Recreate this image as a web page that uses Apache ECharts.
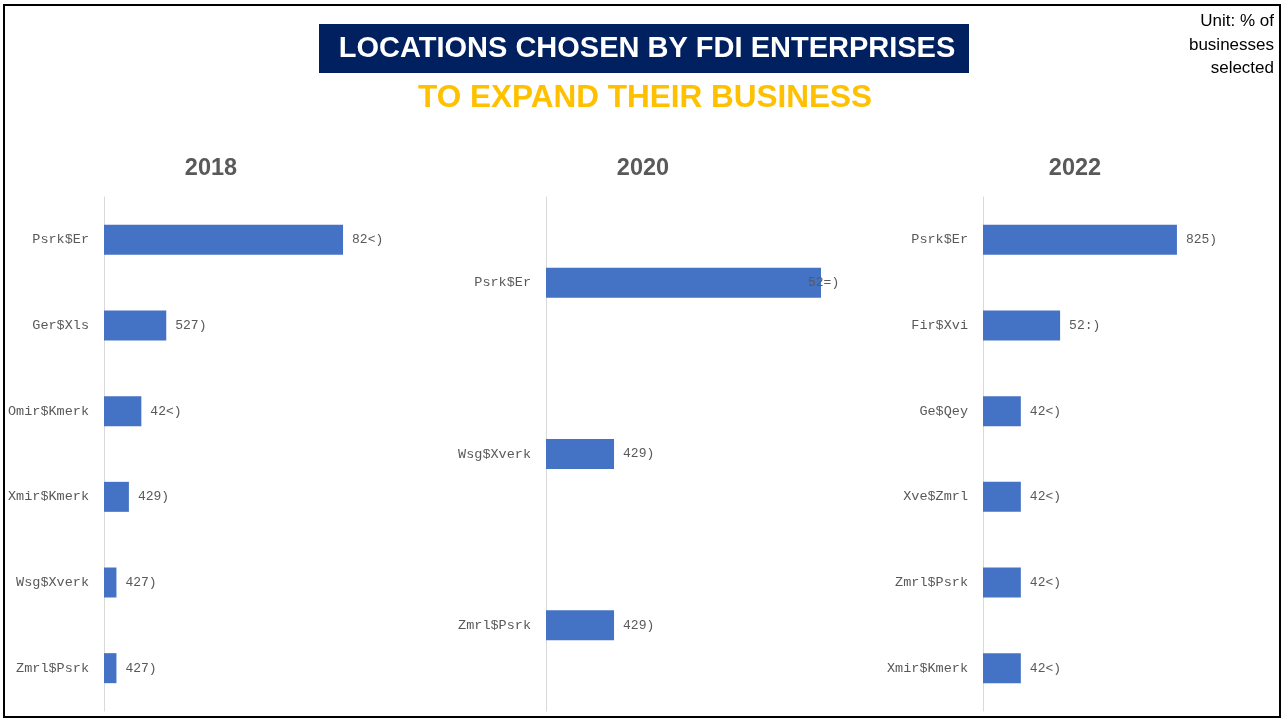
<!DOCTYPE html>
<html>
<head>
<meta charset="utf-8">
<style>
  html, body { margin: 0; padding: 0; background: #fff; }
  #chart { width: 1284px; height: 720px; }
</style>
</head>
<body>
<div id="chart"></div>
<script src="https://cdn.jsdelivr.net/npm/echarts@6/dist/echarts.min.js"></script>
<script>
// data (labels kept as they appear in the picture)
var cats2018 = ['Psrk$Er', 'Ger$Xls', 'Omir$Kmerk', 'Xmir$Kmerk', 'Wsg$Xverk', 'Zmrl$Psrk'];
var vals2018 = [4.8, 1.25, 0.75, 0.5, 0.25, 0.25];
var lbls2018 = ['82<)', '527)', '42<)', '429)', '427)', '427)'];

var cats2020 = ['Psrk$Er', 'Wsg$Xverk', 'Zmrl$Psrk'];
var vals2020 = [1.94, 0.48, 0.48];
var lbls2020 = ['52=)', '429)', '429)'];

var cats2022 = ['Psrk$Er', 'Fir$Xvi', 'Ge$Qey', 'Xve$Zmrl', 'Zmrl$Psrk', 'Xmir$Kmerk'];
var vals2022 = [4.1, 1.63, 0.8, 0.8, 0.8, 0.8];
var lbls2022 = ['825)', '52:)', '42<)', '42<)', '42<)', '42<)'];

var years = ['2018', '2020', '2022'];

var BAR = '#4472C4';
var GREY = '#595959';
var MONO = '"Liberation Mono", "DejaVu Sans Mono", monospace';
var SANS = '"Liberation Sans", Arial, sans-serif';

var grids = [
  { left: 104, top: 197, width: 249, height: 514 },
  { left: 546, top: 197, width: 283.5, height: 514 },
  { left: 983, top: 197, width: 236.5, height: 514 }
];
var maxes = [5, 2, 5];
var yearX = [211, 643, 1075];
var catsAll = [cats2018, cats2020, cats2022];
var valsAll = [vals2018, vals2020, vals2022];
var lblsAll = [lbls2018, lbls2020, lbls2022];

var xAxes = [], yAxes = [], series = [];
for (var i = 0; i < 3; i++) {
  xAxes.push({
    gridIndex: i, type: 'value', min: 0, max: maxes[i], show: false,
    splitLine: { show: false }
  });
  yAxes.push({
    gridIndex: i, type: 'category', data: catsAll[i], inverse: true,
    axisLine: { show: true, lineStyle: { color: '#d9d9d9', width: 1 } },
    axisTick: { show: false },
    axisLabel: { color: GREY, fontFamily: MONO, fontSize: 13.5, margin: 15 }
  });
  var data = valsAll[i].map(function (v, k) {
    // in 2020 the first label sits over the bar end, as in the picture
    if (i === 1 && k === 0) return { value: v, label: { distance: -13 } };
    return v;
  });
  (function (lbls) {
    series.push({
      type: 'bar', xAxisIndex: i, yAxisIndex: i, data: data,
      barWidth: 30,
      itemStyle: { color: BAR },
      label: {
        show: true, position: 'right', distance: 9,
        color: GREY, fontFamily: MONO, fontSize: 13,
        formatter: function (p) { return lbls[p.dataIndex]; }
      }
    });
  })(lblsAll[i]);
}

var graphics = [
  {
    type: 'rect', shape: { x: 4, y: 5, width: 1276, height: 712 },
    style: { fill: 'none', stroke: '#000', lineWidth: 2 }, silent: true
  },
  {
    type: 'rect', shape: { x: 319, y: 24, width: 650, height: 49 },
    style: { fill: '#002060' }, silent: true
  },
  {
    type: 'text', x: 647, y: 49,
    style: {
      text: 'LOCATIONS CHOSEN BY FDI ENTERPRISES', align: 'center', verticalAlign: 'middle',
      fill: '#fff', font: 'bold 29px ' + SANS
    }
  },
  {
    type: 'text', x: 645, y: 98.5,
    style: {
      text: 'TO EXPAND THEIR BUSINESS', align: 'center', verticalAlign: 'middle',
      fill: '#FFC000', font: 'bold 31.5px ' + SANS
    }
  },
  {
    type: 'text', x: 1274, y: 10,
    style: {
      text: 'Unit: % of\nbusinesses\nselected', align: 'right',
      fill: '#000', font: '17px ' + SANS, lineHeight: 23.5
    }
  }
];
for (var j = 0; j < 3; j++) {
  graphics.push({
    type: 'text', x: yearX[j], y: 168.5,
    style: {
      text: years[j], align: 'center', verticalAlign: 'middle',
      fill: GREY, font: 'bold 23.5px ' + SANS
    }
  });
}

var chart = echarts.init(document.getElementById('chart'));
chart.setOption({
  backgroundColor: '#fff',
  animation: false,
  graphic: graphics,
  grid: grids,
  xAxis: xAxes,
  yAxis: yAxes,
  series: series
});
</script>
</body>
</html>
